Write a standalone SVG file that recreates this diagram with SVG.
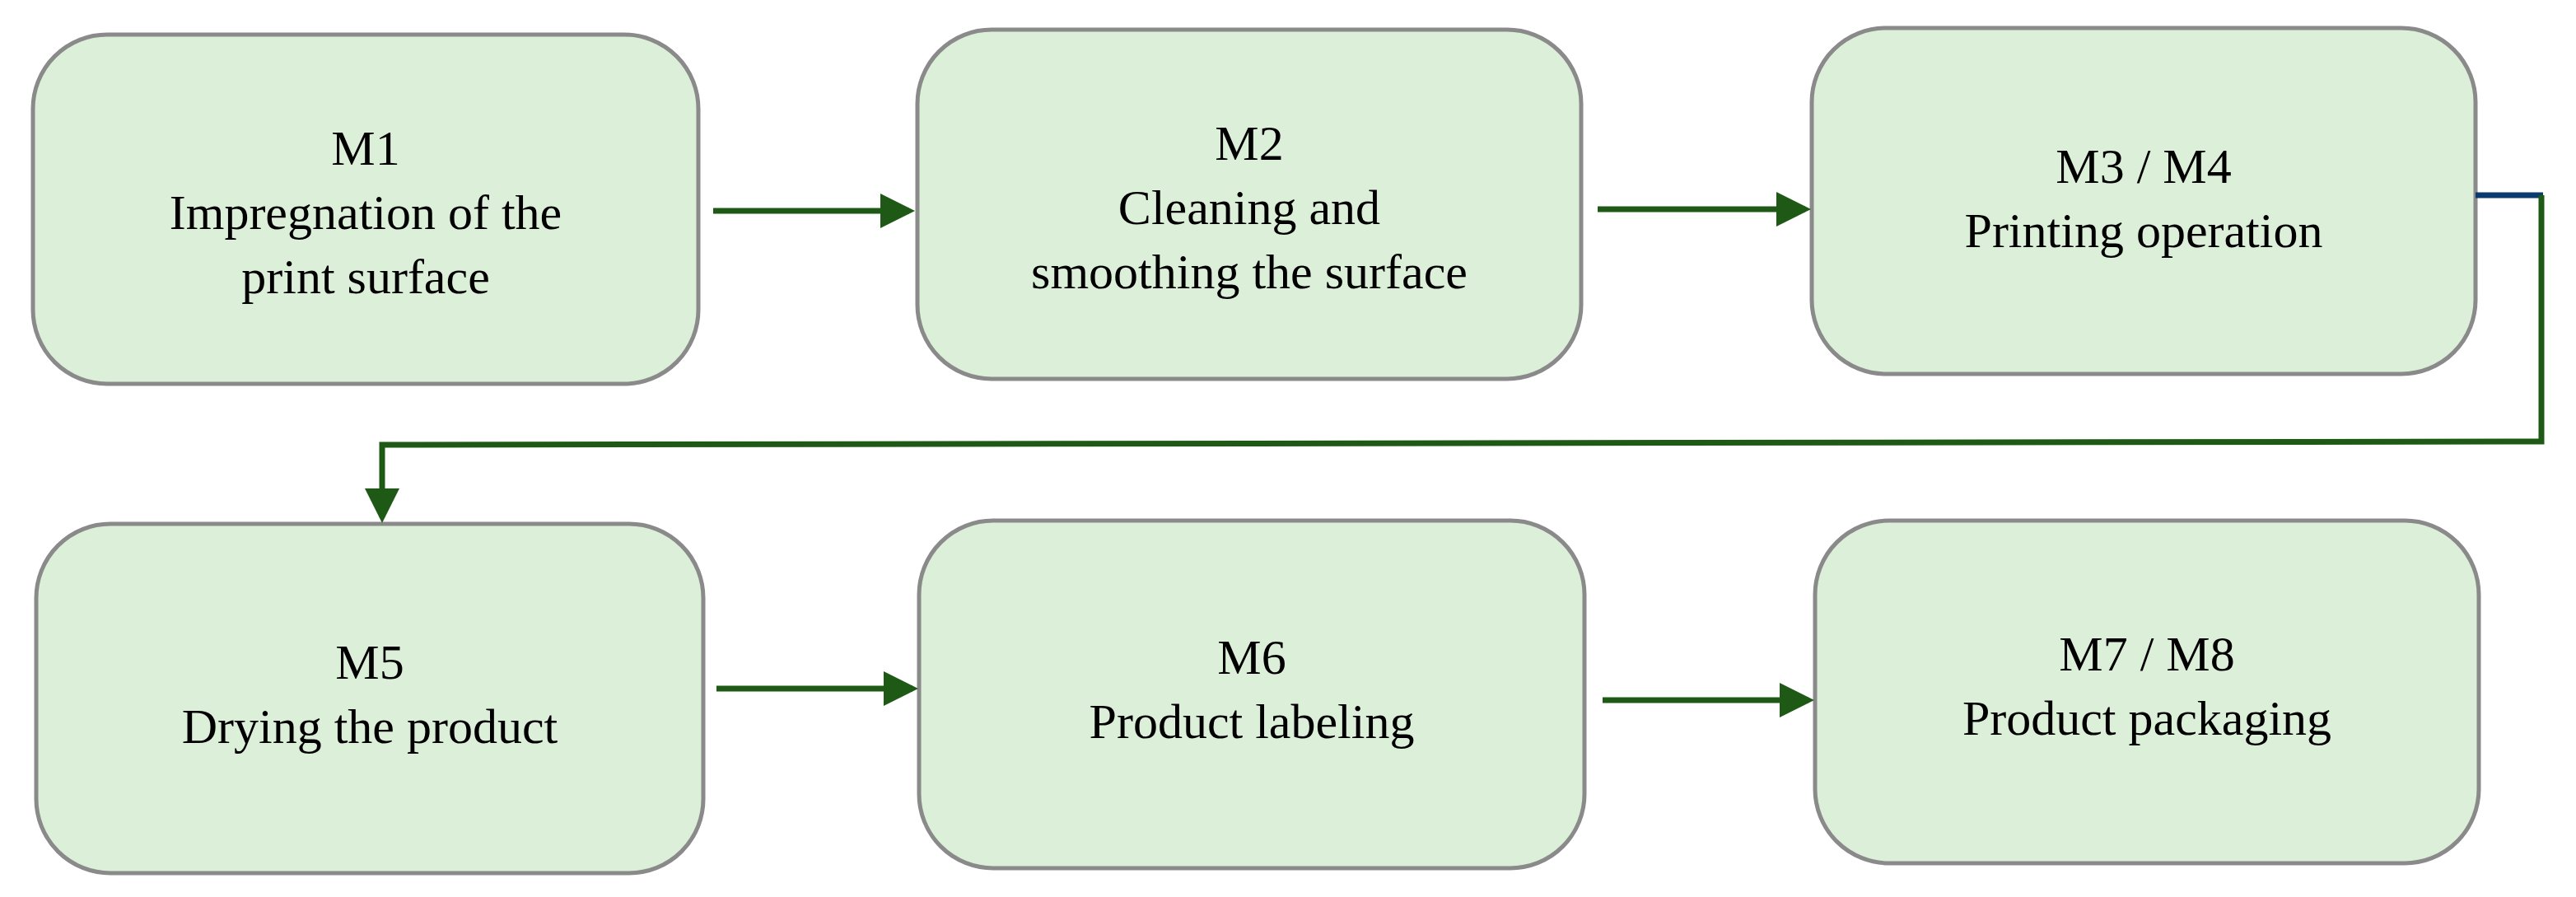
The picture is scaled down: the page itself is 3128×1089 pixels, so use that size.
<svg xmlns="http://www.w3.org/2000/svg" width="3128" height="1089" viewBox="0 0 3128 1089">
<style>
.box{fill:#dcefd9;stroke:#8a8a8a;stroke-width:5}
.t{font-family:"Liberation Serif",serif;font-size:60px;fill:#000;text-anchor:middle}
.c{stroke:#1e5a16;stroke-width:7;fill:none}
</style>
<defs><marker id="a" markerWidth="6" markerHeight="6" refX="5" refY="3" orient="auto" markerUnits="strokeWidth"><path d="M0,0L6,3L0,6z" fill="#1e5a16"/></marker></defs>
<rect width="3128" height="1089" fill="#fff"/>
<g id="m1"><rect class="box" x="40" y="42" width="808" height="424" rx="90"/><text class="t" x="444"><tspan x="444" y="200">M1</tspan><tspan x="444" y="278">Impregnation of the</tspan><tspan x="444" y="356">print surface</tspan></text></g>
<g id="m2"><rect class="box" x="1114" y="36" width="806" height="424" rx="90"/><text class="t"><tspan x="1517" y="194">M2</tspan><tspan x="1517" y="272">Cleaning and</tspan><tspan x="1517" y="350">smoothing the surface</tspan></text></g>
<g id="m3"><rect class="box" x="2200" y="34" width="806" height="420" rx="90"/><text class="t"><tspan x="2603" y="222">M3 / M4</tspan><tspan x="2603" y="300">Printing operation</tspan></text></g>
<g id="m5"><rect class="box" x="44" y="636" width="810" height="424" rx="90"/><text class="t"><tspan x="449" y="824">M5</tspan><tspan x="449" y="902">Drying the product</tspan></text></g>
<g id="m6"><rect class="box" x="1116" y="632" width="808" height="422" rx="90"/><text class="t"><tspan x="1520" y="818">M6</tspan><tspan x="1520" y="896">Product labeling</tspan></text></g>
<g id="m7"><rect class="box" x="2204" y="632" width="806" height="416" rx="90"/><text class="t"><tspan x="2607" y="814">M7 / M8</tspan><tspan x="2607" y="892">Product packaging</tspan></text></g>
<g id="connectors">
<line class="c" x1="866" y1="256" x2="1104" y2="256" marker-end="url(#a)"/>
<line class="c" x1="1940" y1="254" x2="2192" y2="254" marker-end="url(#a)"/>
<line class="c" x1="870" y1="836" x2="1108" y2="836" marker-end="url(#a)"/>
<line class="c" x1="1946" y1="850" x2="2196" y2="850" marker-end="url(#a)"/>
<line x1="3006" y1="237" x2="3088" y2="237" stroke="#0b3a6e" stroke-width="7"/>
<polyline class="c" points="3086,237 3086,536 464,540 464,628" marker-end="url(#a)"/>
</g>
</svg>
